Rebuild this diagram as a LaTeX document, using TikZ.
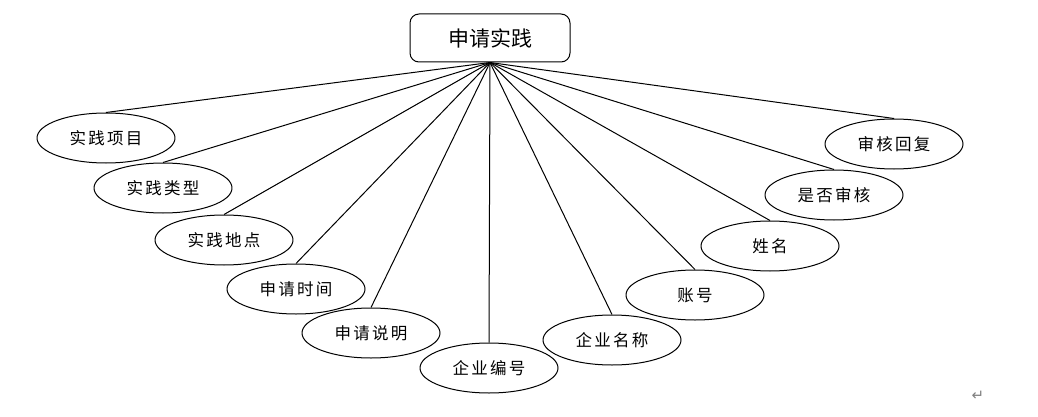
\documentclass[tikz,border=0pt]{standalone}
\usepackage{fontspec}
\setmainfont{Noto Sans CJK SC}
\newfontfamily\symfont{DejaVu Sans}
\newfontfamily\spacedfont[LetterSpace=14]{Noto Sans CJK SC}
\usetikzlibrary{shapes.geometric, positioning}

\begin{document}
\begin{tikzpicture}[x=1pt, y=-1pt, line join=bevel, thick,
    attr/.style={ellipse, draw, line width=1pt, minimum width=138pt, minimum height=50pt, inner sep=0pt, font=\spacedfont\fontsize{16.5}{16.5}\selectfont},
    entity/.style={rectangle, rounded corners=9pt, draw, line width=1pt, minimum width=160pt, minimum height=48pt, font=\fontsize{21}{21}\selectfont}]
             \useasboundingbox (0,0) rectangle (1038,417);
             %
             \node[entity] (sq) at (490,38) {申请实践};
             %
             \node[attr] (xm) at (106,138) {实践项目};
             \node[attr] (lx) at (163,188) {实践类型};
             \node[attr] (dd) at (224,240) {实践地点};
             \node[attr] (sj) at (296,289) {申请时间};
             \node[attr] (sm) at (371,333) {申请说明};
             \node[attr] (bh) at (489,368) {企业编号};
             \node[attr] (mc) at (612,340) {企业名称};
             \node[attr] (zh) at (695,295) {账号};
             \node[attr] (xmg) at (770,246) {姓名};
             \node[attr] (sh) at (834,195) {是否审核};
             \node[attr] (hf) at (894,144) {审核回复};
             %
             \foreach \a in {xm, lx, dd, sj, sm, bh, mc, zh, xmg, sh, hf}
               \path[line width=1pt] (sq.south) edge[] (\a.north);
             %
             \node[text=gray, font=\symfont\fontsize{15}{15}\selectfont] (ret) at (978,396) {↵};
          \end{tikzpicture}
\end{document}
